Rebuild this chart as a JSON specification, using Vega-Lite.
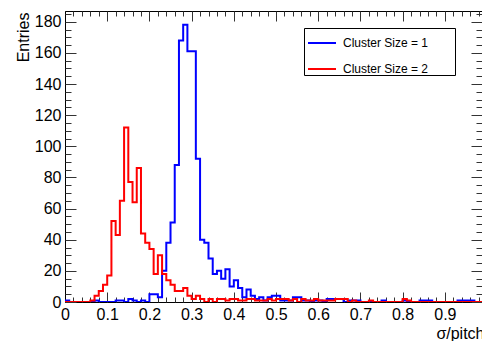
{
"$schema": "https://vega.github.io/schema/vega-lite/v6.json",
"width": 417, "height": 291,
"autosize": {"type": "none"},
"padding": {"left": 65, "top": 11, "right": 0, "bottom": 39},
"background": "white",
"config": {"view": {"stroke": null}, "font": "Liberation Sans",
  "axis": {"grid": false, "domainColor": "black", "tickColor": "#333", "labelColor": "black", "labelFont": "Liberation Sans", "labelFontSize": 16, "titleFont": "Liberation Sans", "titleFontSize": 16, "titleFontWeight": "normal", "titleColor": "black", "labelFlush": false, "labelOverlap": false}},
"datasets": {
"b": [{"x":0.00,"v":1},{"x":0.01,"v":0},{"x":0.02,"v":0},{"x":0.03,"v":0},{"x":0.04,"v":0},{"x":0.05,"v":0},{"x":0.06,"v":0},{"x":0.07,"v":1},{"x":0.08,"v":0},{"x":0.09,"v":0},
{"x":0.10,"v":0},{"x":0.11,"v":0},{"x":0.12,"v":1},{"x":0.13,"v":1},{"x":0.14,"v":0},{"x":0.15,"v":2},{"x":0.16,"v":1},{"x":0.17,"v":0},{"x":0.18,"v":1},{"x":0.19,"v":0},
{"x":0.20,"v":5},{"x":0.21,"v":5},{"x":0.22,"v":3},{"x":0.23,"v":20},{"x":0.24,"v":38},{"x":0.25,"v":51},{"x":0.26,"v":88},{"x":0.27,"v":168},{"x":0.28,"v":178},{"x":0.29,"v":161},
{"x":0.30,"v":161},{"x":0.31,"v":92},{"x":0.32,"v":40},{"x":0.33,"v":38},{"x":0.34,"v":28},{"x":0.35,"v":18},{"x":0.36,"v":20},{"x":0.37,"v":15},{"x":0.38,"v":21},{"x":0.39,"v":10},
{"x":0.40,"v":14},{"x":0.41,"v":9},{"x":0.42,"v":3},{"x":0.43,"v":8},{"x":0.44,"v":4},{"x":0.45,"v":2},{"x":0.46,"v":3},{"x":0.47,"v":1},{"x":0.48,"v":3},{"x":0.49,"v":4},
{"x":0.50,"v":4},{"x":0.51,"v":1},{"x":0.52,"v":1},{"x":0.53,"v":1},{"x":0.54,"v":3},{"x":0.55,"v":3},{"x":0.56,"v":1},{"x":0.57,"v":1},{"x":0.58,"v":0},{"x":0.59,"v":1},
{"x":0.60,"v":1},{"x":0.61,"v":0},{"x":0.62,"v":2},{"x":0.63,"v":2},{"x":0.64,"v":2},{"x":0.65,"v":2},{"x":0.66,"v":0},{"x":0.67,"v":1},{"x":0.68,"v":1},{"x":0.69,"v":1},
{"x":0.70,"v":0},{"x":0.71,"v":0},{"x":0.72,"v":0},{"x":0.73,"v":0},{"x":0.74,"v":0},{"x":0.75,"v":1},{"x":0.76,"v":0},{"x":0.77,"v":0},{"x":0.78,"v":0},{"x":0.79,"v":0},
{"x":0.80,"v":1},{"x":0.81,"v":0},{"x":0.82,"v":0},{"x":0.83,"v":0},{"x":0.84,"v":1},{"x":0.85,"v":1},{"x":0.86,"v":1},{"x":0.87,"v":0},{"x":0.88,"v":0},{"x":0.89,"v":0},
{"x":0.90,"v":0},{"x":0.91,"v":0},{"x":0.92,"v":0},{"x":0.93,"v":1},{"x":0.94,"v":1},{"x":0.95,"v":1},{"x":0.96,"v":1},{"x":0.97,"v":0},{"x":0.98,"v":0},{"x":0.99,"v":0},{"x":1.00,"v":0}],
"r": [{"x":0.00,"v":0},{"x":0.01,"v":0},{"x":0.02,"v":0},{"x":0.03,"v":0},{"x":0.04,"v":0},{"x":0.05,"v":0},{"x":0.06,"v":1},{"x":0.07,"v":4},{"x":0.08,"v":7},{"x":0.09,"v":11},
{"x":0.10,"v":17},{"x":0.11,"v":52},{"x":0.12,"v":43},{"x":0.13,"v":65},{"x":0.14,"v":112},{"x":0.15,"v":77},{"x":0.16,"v":64},{"x":0.17,"v":86},{"x":0.18,"v":44},{"x":0.19,"v":38},
{"x":0.20,"v":34},{"x":0.21,"v":18},{"x":0.22,"v":30},{"x":0.23,"v":18},{"x":0.24,"v":14},{"x":0.25,"v":11},{"x":0.26,"v":7},{"x":0.27,"v":7},{"x":0.28,"v":9},{"x":0.29,"v":4},
{"x":0.30,"v":2},{"x":0.31,"v":4},{"x":0.32,"v":2},{"x":0.33,"v":0},{"x":0.34,"v":2},{"x":0.35,"v":0},{"x":0.36,"v":2},{"x":0.37,"v":2},{"x":0.38,"v":1},{"x":0.39,"v":2},
{"x":0.40,"v":2},{"x":0.41,"v":1},{"x":0.42,"v":1},{"x":0.43,"v":2},{"x":0.44,"v":2},{"x":0.45,"v":1},{"x":0.46,"v":1},{"x":0.47,"v":1},{"x":0.48,"v":2},{"x":0.49,"v":1},
{"x":0.50,"v":2},{"x":0.51,"v":2},{"x":0.52,"v":2},{"x":0.53,"v":1},{"x":0.54,"v":2},{"x":0.55,"v":0},{"x":0.56,"v":2},{"x":0.57,"v":1},{"x":0.58,"v":1},{"x":0.59,"v":2},
{"x":0.60,"v":1},{"x":0.61,"v":1},{"x":0.62,"v":1},{"x":0.63,"v":1},{"x":0.64,"v":2},{"x":0.65,"v":2},{"x":0.66,"v":2},{"x":0.67,"v":0},{"x":0.68,"v":1},{"x":0.69,"v":0},
{"x":0.70,"v":0},{"x":0.71,"v":0},{"x":0.72,"v":1},{"x":0.73,"v":0},{"x":0.74,"v":0},{"x":0.75,"v":0},{"x":0.76,"v":0},{"x":0.77,"v":0},{"x":0.78,"v":0},{"x":0.79,"v":0},
{"x":0.80,"v":2},{"x":0.81,"v":1},{"x":0.82,"v":0},{"x":0.83,"v":0},{"x":0.84,"v":0},{"x":0.85,"v":0},{"x":0.86,"v":0},{"x":0.87,"v":0},{"x":0.88,"v":0},{"x":0.89,"v":0},
{"x":0.90,"v":0},{"x":0.91,"v":0},{"x":0.92,"v":0},{"x":0.93,"v":0},{"x":0.94,"v":0},{"x":0.95,"v":0},{"x":0.96,"v":0},{"x":0.97,"v":0},{"x":0.98,"v":0},{"x":0.99,"v":0},{"x":1.00,"v":0}]
},
"layer": [
 {"data": {"name": "b"},
  "mark": {"type": "line", "interpolate": "step-after", "strokeWidth": 2, "clip": true},
  "encoding": {
   "x": {"field": "x", "type": "quantitative", "scale": {"domain": [0, 0.988], "nice": false, "zero": false},
     "axis": {"orient": "bottom", "values": [0,0.1,0.2,0.3,0.4,0.5,0.6,0.7,0.8,0.9], "format": "~g", "tickSize": -10, "labelPadding": 14, "domain": true,
       "title": "σ/pitch", "titleX": 419, "titleY": 36, "titleAlign": "right", "titleAnchor": "end", "titleBaseline": "alphabetic"}},
   "y": {"field": "v", "type": "quantitative", "scale": {"domain": [0, 186.9], "nice": false},
     "axis": {"orient": "left", "values": [0,20,40,60,80,100,120,140,160,180], "format": "d", "tickSize": -11, "labelPadding": 15, "domain": true,
       "title": "Entries", "titleX": -42, "titleY": 1, "titleAngle": -90, "titleAlign": "right", "titleAnchor": "end", "titleBaseline": "middle"}},
   "color": {"datum": "Cluster Size = 1", "type": "nominal",
     "scale": {"domain": ["Cluster Size = 1", "Cluster Size = 2"], "range": ["#0000ff", "#ff0000"]},
     "legend": {"orient": "none", "legendX": 239, "legendY": 17, "title": null, "fillColor": "white", "strokeColor": "black", "padding": 0,
       "symbolType": "stroke", "symbolSize": 784, "symbolStrokeWidth": 2, "symbolOffset": 3, "labelOffset": 6, "labelFontSize": 12, "labelFont": "Liberation Sans", "labelColor": "black", "rowPadding": 5, "labelLimit": 300,
       "labelExpr": "datum.label + '\u00a0\u00a0\u00a0\u00a0\u00a0\u00a0\u00a0\u00a0\u200b'"}}
  }},
 {"data": {"name": "r"},
  "mark": {"type": "line", "interpolate": "step-after", "strokeWidth": 2, "clip": true},
  "encoding": {
   "x": {"field": "x", "type": "quantitative", "scale": {"domain": [0, 0.988], "nice": false, "zero": false}, "axis": null},
   "y": {"field": "v", "type": "quantitative", "scale": {"domain": [0, 186.9], "nice": false}, "axis": null},
   "color": {"datum": "Cluster Size = 2", "type": "nominal"}
  }},
 {"data": {"name": "b"},
  "mark": {"type": "point", "opacity": 0},
  "encoding": {
   "x": {"field": "x", "type": "quantitative", "scale": {"domain": [0, 0.988], "nice": false, "zero": false},
     "axis": {"orient": "bottom", "values": [0,0.02,0.04,0.06,0.08,0.1,0.12,0.14,0.16,0.18,0.2,0.22,0.24,0.26,0.28,0.3,0.32,0.34,0.36,0.38,0.4,0.42,0.44,0.46,0.48,0.5,0.52,0.54,0.56,0.58,0.6,0.62,0.64,0.66,0.68,0.7,0.72,0.74,0.76,0.78,0.8,0.82,0.84,0.86,0.88,0.9,0.92,0.94,0.96,0.98], "tickSize": -5, "labels": false, "domain": false, "title": null}},
   "y": {"field": "v", "type": "quantitative", "scale": {"domain": [0, 186.9], "nice": false},
     "axis": {"orient": "left", "values": [0,5,10,15,20,25,30,35,40,45,50,55,60,65,70,75,80,85,90,95,100,105,110,115,120,125,130,135,140,145,150,155,160,165,170,175,180,185], "tickSize": -6, "labels": false, "domain": false, "title": null}}
  }},
 {"data": {"name": "b"},
  "mark": {"type": "point", "opacity": 0},
  "encoding": {
   "x": {"field": "x", "type": "quantitative", "scale": {"domain": [0, 0.988], "nice": false, "zero": false},
     "axis": {"orient": "top", "values": [0,0.1,0.2,0.3,0.4,0.5,0.6,0.7,0.8,0.9], "tickSize": -10, "labels": false, "domain": true, "title": null}},
   "y": {"field": "v", "type": "quantitative", "scale": {"domain": [0, 186.9], "nice": false},
     "axis": {"orient": "right", "values": [0,20,40,60,80,100,120,140,160,180], "tickSize": -11, "labels": false, "domain": false, "title": null}}
  }},
 {"data": {"name": "b"},
  "mark": {"type": "point", "opacity": 0},
  "encoding": {
   "x": {"field": "x", "type": "quantitative", "scale": {"domain": [0, 0.988], "nice": false, "zero": false},
     "axis": {"orient": "top", "values": [0,0.02,0.04,0.06,0.08,0.1,0.12,0.14,0.16,0.18,0.2,0.22,0.24,0.26,0.28,0.3,0.32,0.34,0.36,0.38,0.4,0.42,0.44,0.46,0.48,0.5,0.52,0.54,0.56,0.58,0.6,0.62,0.64,0.66,0.68,0.7,0.72,0.74,0.76,0.78,0.8,0.82,0.84,0.86,0.88,0.9,0.92,0.94,0.96,0.98], "tickSize": -5, "labels": false, "domain": false, "title": null}},
   "y": {"field": "v", "type": "quantitative", "scale": {"domain": [0, 186.9], "nice": false},
     "axis": {"orient": "right", "values": [0,5,10,15,20,25,30,35,40,45,50,55,60,65,70,75,80,85,90,95,100,105,110,115,120,125,130,135,140,145,150,155,160,165,170,175,180,185], "tickSize": -6, "labels": false, "domain": false, "title": null}}
  }}
],
"resolve": {"axis": {"x": "independent", "y": "independent"}}
}
